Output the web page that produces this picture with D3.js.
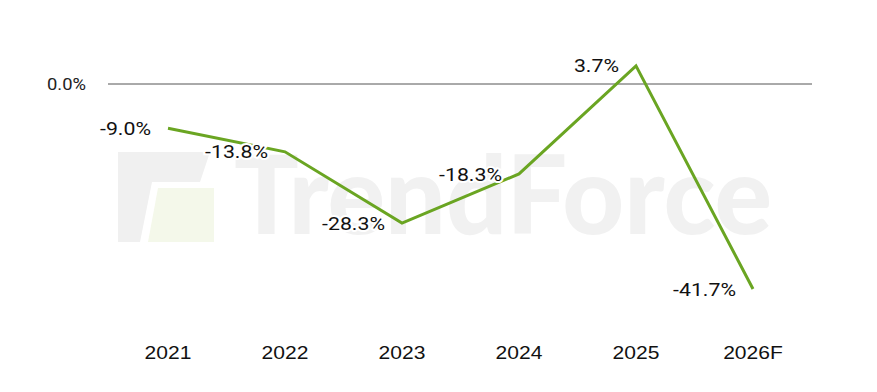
<!DOCTYPE html>
<html><head><meta charset="utf-8">
<script src="https://cdn.jsdelivr.net/npm/d3@7"></script>
<style>body{margin:0;background:#fff;}svg{display:block;}</style>
</head><body>
<svg id="chart" width="877" height="392"></svg>
<script>
const categories = ["2021","2022","2023","2024","2025","2026F"];
const values = [-9.0, -13.8, -28.3, -18.3, 3.7, -41.7];
const valueLabels = ["-9.0%","-13.8%","-28.3%","-18.3%","3.7%","-41.7%"];
const yTickValues = [0];
const yTickLabels = ["0.0%"];

const svg = d3.select("#chart");
const x = d3.scalePoint().domain(categories).range([168, 753]);
const y = d3.scaleLinear().domain([-41.7, 0]).range([289, 84]);
const SX = 1.15;

// watermark
const wm = svg.append("g");
wm.append("path").attr("d","M118,152 L210,152 L200,182 L152,182 L140,242 L118,242 Z").attr("fill","#f0f0f0");
wm.append("path").attr("d","M158,188 L214,188 L214,242 L148,242 Z").attr("fill","#f4f8ea");
wm.append("text").attr("x", 234).attr("y", 234).attr("font-family","Lato, 'Open Sans', sans-serif")
  .attr("font-weight", 900).attr("font-size", 108).attr("fill","#f1f1f1").attr("textLength", 538)
  .attr("lengthAdjust","spacingAndGlyphs").text("TrendForce");

// zero line
svg.append("line").attr("x1",108).attr("x2",812).attr("y1",y(0)).attr("y2",y(0))
  .attr("stroke","#555").attr("stroke-width",1);

// y tick label
svg.selectAll(".ytick").data(yTickValues).enter().append("text")
  .attr("transform", d => `translate(86,${y(d)}) scale(${SX},1)`).attr("dy","0.35em").attr("text-anchor","end")
  .attr("font-family","Roboto, Arial, sans-serif").attr("font-size",16).attr("fill","#222")
  .text((d,i) => yTickLabels[i]);

// x axis labels
svg.selectAll(".xtick").data(categories).enter().append("text")
  .attr("transform", d => `translate(${x(d)},353) scale(1.17,1)`).attr("dy","0.35em").attr("text-anchor","middle")
  .attr("font-family","'Liberation Sans', Arial, sans-serif").attr("font-size",18).attr("fill","#111")
  .text(d => d);

// line
const line = d3.line().x((d,i) => x(categories[i])).y(d => y(d));
svg.append("path").datum(values).attr("d", line).attr("fill","none")
  .attr("stroke","#6aa522").attr("stroke-width",3).attr("stroke-linejoin","miter");

// data labels
svg.selectAll(".dl").data(values).enter().append("text")
  .attr("transform", (d,i) => `translate(${x(categories[i]) - 17},${y(d)}) scale(1.12,1)`).attr("dy","0.35em")
  .attr("text-anchor","end").attr("font-family","Roboto, Arial, sans-serif").attr("font-size",19)
  .attr("fill","#111").attr("stroke","#fff").attr("stroke-width",4).attr("paint-order","stroke")
  .text((d,i) => valueLabels[i]);
</script>
</body></html>
